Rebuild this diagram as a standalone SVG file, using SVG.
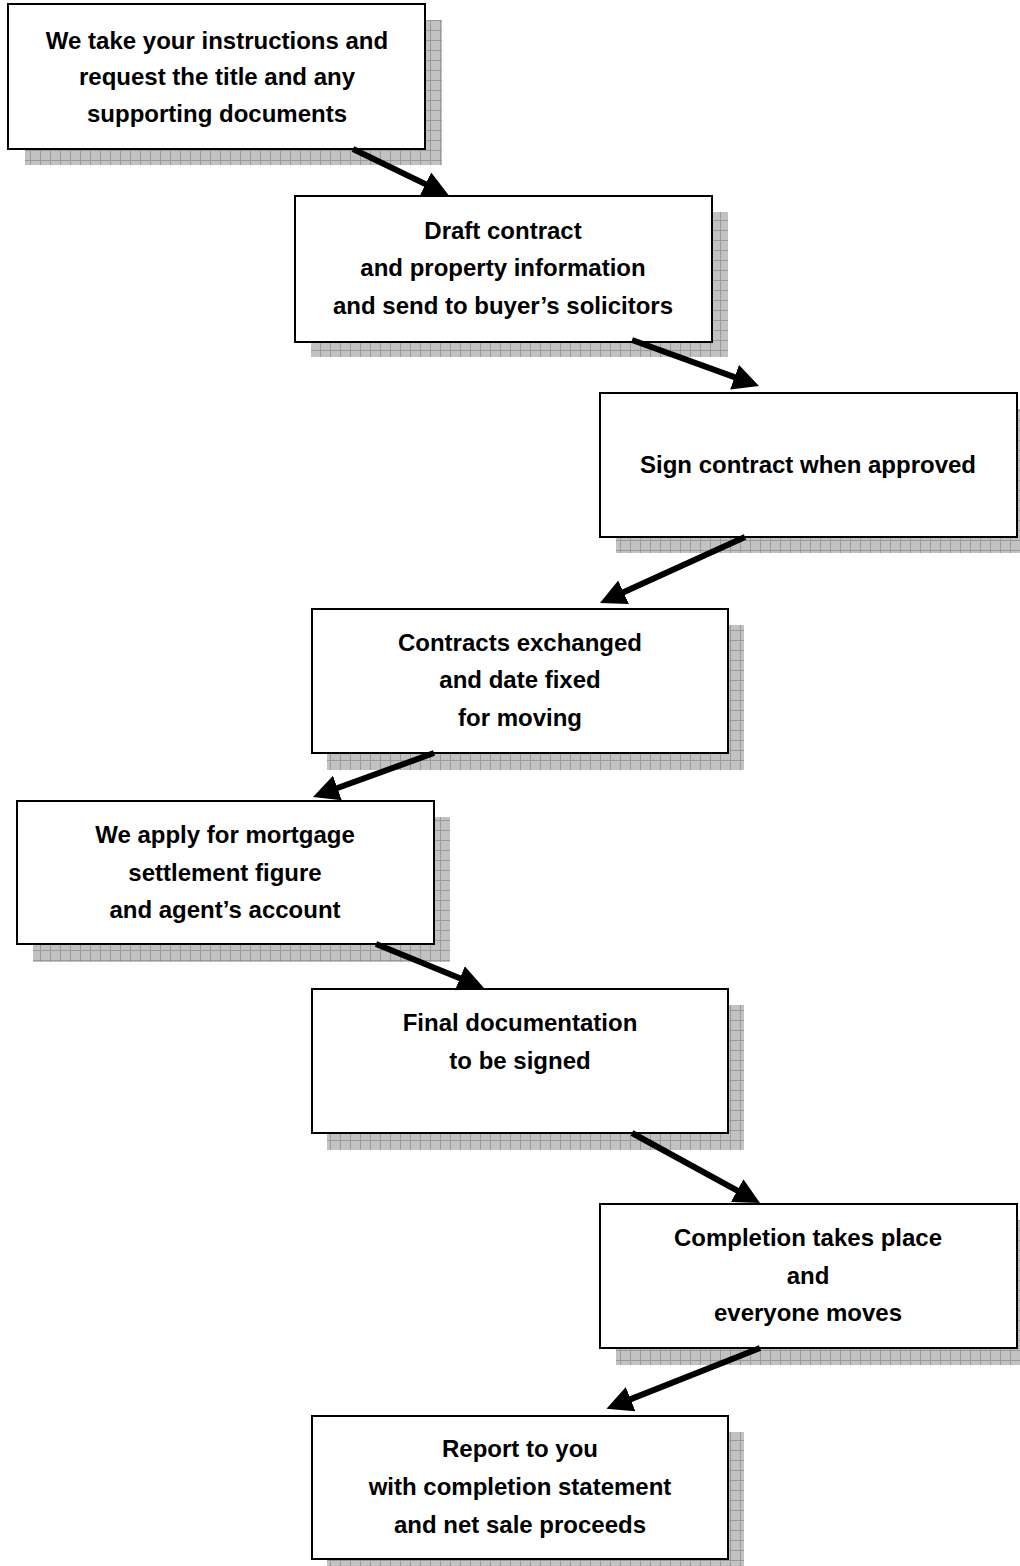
<svg xmlns="http://www.w3.org/2000/svg" width="1020" height="1566" viewBox="0 0 1020 1566">
<style>
.box{fill:#fff;stroke:#000;stroke-width:2}
.sh{fill:url(#grid)}
.t{font-family:"Liberation Sans",Arial,sans-serif;font-weight:bold;font-size:24px;text-anchor:middle;fill:#000}
.arr{stroke:#000;stroke-width:6;fill:none;marker-end:url(#ah)}
</style>
<defs>
<pattern id="grid" patternUnits="userSpaceOnUse" width="10" height="10">
<rect width="10" height="10" fill="#c2c2c2"/>
<path d="M0,0.5H10M0.5,0V10" stroke="#9a9a9a" stroke-width="1" fill="none"/>
</pattern>
<marker id="ah" markerUnits="userSpaceOnUse" markerWidth="28" markerHeight="28" refX="8" refY="13" orient="auto">
<path d="M0,0 L26,13 L0,26 z" fill="#000"/>
</marker>
</defs>
<rect width="1020" height="1566" fill="#fff"/>
<g id="n1">
<rect class="sh" x="25" y="20" width="417" height="145"/>
<rect class="box" x="8" y="4" width="417" height="145"/>
<text class="t" x="217" y="49">We take your instructions and</text>
<text class="t" x="217" y="85">request the title and any</text>
<text class="t" x="217" y="122">supporting documents</text>
</g>
<g id="n2">
<rect class="sh" x="311" y="212" width="417" height="145"/>
<rect class="box" x="295" y="196" width="417" height="146"/>
<text class="t" x="503" y="239">Draft contract</text>
<text class="t" x="503" y="276">and property information</text>
<text class="t" x="503" y="314">and send to buyer’s solicitors</text>
</g>
<g id="n3">
<rect class="sh" x="616" y="409" width="404" height="144"/>
<rect class="box" x="600" y="393" width="417" height="144"/>
<text class="t" x="808" y="473">Sign contract when approved</text>
</g>
<g id="n4">
<rect class="sh" x="327" y="625" width="417" height="145"/>
<rect class="box" x="312" y="609" width="416" height="144"/>
<text class="t" x="520" y="651">Contracts exchanged</text>
<text class="t" x="520" y="688">and date fixed</text>
<text class="t" x="520" y="726">for moving</text>
</g>
<g id="n5">
<rect class="sh" x="33" y="817" width="417" height="145"/>
<rect class="box" x="17" y="801" width="417" height="143"/>
<text class="t" x="225" y="843">We apply for mortgage</text>
<text class="t" x="225" y="881">settlement figure</text>
<text class="t" x="225" y="918">and agent’s account</text>
</g>
<g id="n6">
<rect class="sh" x="327" y="1005" width="417" height="145"/>
<rect class="box" x="312" y="989" width="416" height="144"/>
<text class="t" x="520" y="1031">Final documentation</text>
<text class="t" x="520" y="1069">to be signed</text>
</g>
<g id="n7">
<rect class="sh" x="616" y="1220" width="404" height="145"/>
<rect class="box" x="600" y="1204" width="417" height="144"/>
<text class="t" x="808" y="1246">Completion takes place</text>
<text class="t" x="808" y="1284">and</text>
<text class="t" x="808" y="1321">everyone moves</text>
</g>
<g id="n8">
<rect class="sh" x="327" y="1432" width="417" height="140"/>
<rect class="box" x="312" y="1416" width="416" height="143"/>
<text class="t" x="520" y="1457">Report to you</text>
<text class="t" x="520" y="1495">with completion statement</text>
<text class="t" x="520" y="1533">and net sale proceeds</text>
</g>
<g id="connectors">
<line class="arr" x1="353" y1="149" x2="432.7" y2="187.6"/>
<line class="arr" x1="632" y1="340" x2="742.1" y2="379.9"/>
<line class="arr" x1="745" y1="537" x2="616.3" y2="595.6"/>
<line class="arr" x1="434" y1="753" x2="329.9" y2="790.8"/>
<line class="arr" x1="376" y1="944" x2="467.3" y2="981.2"/>
<line class="arr" x1="632" y1="1133" x2="744.2" y2="1194.4"/>
<line class="arr" x1="760" y1="1348" x2="623.2" y2="1402.1"/>
</g>
</svg>
